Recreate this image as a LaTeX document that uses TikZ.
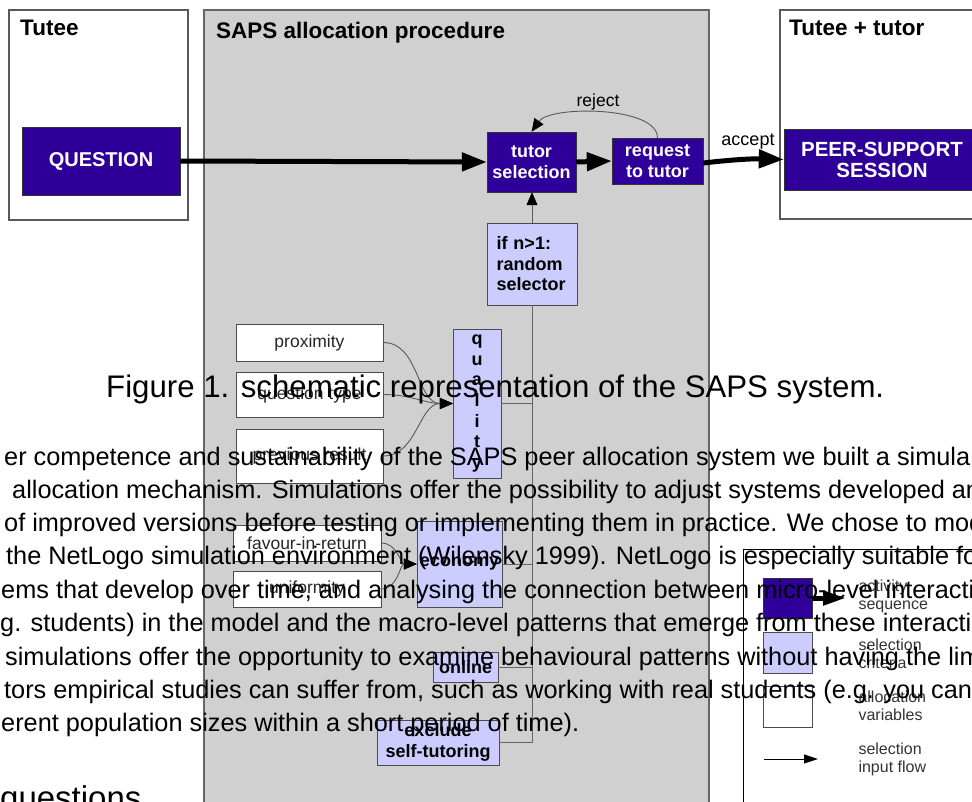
\documentclass[tikz,border=0pt]{standalone}
\usepackage{fontspec}
\setmainfont{Liberation Sans}
\usetikzlibrary{arrows.meta}
\definecolor{actblue}{HTML}{2E0099}
\definecolor{critlav}{HTML}{CCCCFF}
\definecolor{sapsgray}{HTML}{D0D0D0}
\begin{document}
\begin{tikzpicture}[
        x = 1pt, y = -1pt, % one unit per pixel, y goes down
        activity/.style = {draw=black!80, fill=actblue, text=white, inner sep=0pt,
            align=center, font=\bfseries\fontsize{18}{21}\selectfont},
        criteria/.style = {draw=black!70, fill=critlav, inner sep=0pt,
            align=center, font=\bfseries\fontsize{18}{20.5}\selectfont},
        allocvar/.style = {draw=black!70, fill=white, text=black!85, inner sep=0pt,
            font=\fontsize{17.5}{19}\selectfont},
        seqarrow/.style = {line width=5pt, -{Triangle[length=25pt, width=18pt]}},
        flow/.style = {draw=black!65, line width=0.9pt, -{Triangle[length=13pt, width=11pt, color=black]}},
        link/.style = {draw=black!60, line width=1pt},
        title/.style = {anchor=base west, inner sep=0pt, font=\bfseries\fontsize{22.5}{26}\selectfont},
        legtext/.style = {anchor=west, align=left, text=black!80, font=\fontsize{16}{18}\selectfont},
        page/.style = {anchor=base west, inner sep=0pt, font=\fontsize{25.3}{33}\selectfont},
    ]
    \clip (0,0) rectangle (972,801);
    \fill[white] (0,0) rectangle (972,801);

    % the three lanes
    \draw[black!65, line width=1.2pt] (9,10) rectangle (188,220);
    \draw[black!60, line width=1.2pt, fill=sapsgray] (204,10) rectangle (709,830);
    \draw[black!65, line width=1.2pt] (780,10) rectangle (990,219);
    \node[title] (tuteelbl) at (20,35) {Tutee};
    \node[title] (sapslbl) at (216,38) {SAPS allocation procedure};
    \node[title] (pairlbl) at (789,35) {Tutee + tutor};

    % activity sequence
    \node[activity, minimum width=158pt, minimum height=68pt,
        font=\bfseries\fontsize{20}{24}\selectfont] (question) at (101,161) {QUESTION};
    \node[activity, minimum width=89pt, minimum height=60pt] (tsel) at (531.5,162) {tutor\\selection};
    \node[activity, minimum width=91pt, minimum height=46pt] (req) at (657.5,161) {request\\to tutor};
    \node[activity, minimum width=196pt, minimum height=61pt,
        font=\bfseries\fontsize{20.5}{21}\selectfont] (session) at (882,159.5) {PEER-SUPPORT\\SESSION};

    \draw[seqarrow] (question.east) -- (tsel.west);
    \draw[seqarrow] (tsel.east) -- (req.west);
    \draw[seqarrow] (req.east |- 0,163) to[bend left=4] (session.west);
    \node[font=\fontsize{18}{20}\selectfont] (acceptlbl) at (748,142) {accept};
    \draw[flow] (req.north) to[out=90, in=55, looseness=0.65] (tsel.north);
    \node[font=\fontsize{17.5}{20}\selectfont] (rejectlbl) at (598,102) {reject};

    % selection criteria
    \node[criteria, minimum width=90pt, minimum height=82pt, text width=71pt,
        align=left] (selector) at (532,264) {if n>1:\\random\\selector};
    \node[criteria, minimum width=48pt, minimum height=149pt,
        font=\bfseries\fontsize{18}{20.7}\selectfont] (quality) at (477,403.5) {q\\u\\a\\l\\i\\t\\y};
    \node[criteria, minimum width=85pt, minimum height=86pt] (economy) at (459.5,564) {economy};
    \node[criteria, minimum width=65pt, minimum height=30pt] (online) at (465.5,667) {online};
    \node[criteria, minimum width=122pt, minimum height=45pt] (exclude) at (438,742.5) {exclude\\self-tutoring};

    \draw[flow] (selector.north) -- (selector.north |- tsel.south);
    \draw[link] (quality.east) -| (selector.south);
    \draw[link] (economy.east) -| (selector.south);
    \draw[link] (online.east) -| (selector.south);
    \draw[link] (exclude.east) -| (selector.south);

    % allocation variables
    \node[allocvar, minimum width=147pt, minimum height=37pt] (prox) at (309.5,342.5) {proximity};
    \node[allocvar, minimum width=147pt, minimum height=45pt] (qtype) at (309.5,394.5) {question type};
    \node[allocvar, minimum width=147pt, minimum height=54pt] (prev) at (309.5,456) {previous result};
    \node[allocvar, minimum width=148pt, minimum height=36pt] (favour) at (307,543) {favour-in-return};
    \node[allocvar, minimum width=148pt, minimum height=36pt] (unif) at (307,589) {uniformity};

    \draw[flow] (prox.east) to[out=0, in=180] (quality.west);
    \draw[flow] (qtype.east) to[out=0, in=180] (quality.west);
    \draw[flow] (prev.east) to[out=0, in=180] (quality.west);
    \draw[flow] (favour.east) to[out=0, in=180] (economy.west);
    \draw[flow] (unif.east) to[out=0, in=180] (economy.west);

    % legend
    \draw[black, line width=1pt, fill=white] (743,549) rectangle (990,830);
    \node[activity, minimum width=49pt, minimum height=40pt] (lgact) at (787.5,598) {};
    \node[criteria, minimum width=49pt, minimum height=41pt] (lgcrit) at (787.5,652.5) {};
    \node[allocvar, minimum width=49pt, minimum height=41pt] (lgvar) at (787.5,706.5) {};
    \coordinate (lgactend) at (846,598);
    \coordinate (lgflowa) at (764,759);
    \coordinate (lgflowb) at (818,759);
    \draw[line width=5pt, -{Triangle[length=23pt, width=14pt]}] (lgact.east) -- (lgactend);
    \draw[line width=1pt, -{Triangle[length=14pt, width=9pt]}] (lgflowa) -- (lgflowb);
    \node[legtext] (lgacttxt) at (855,596.5) {activity\\sequence};
    \node[legtext] (lgcrittxt) at (855,654) {selection\\criteria};
    \node[legtext] (lgvartxt) at (855,705.5) {allocation\\variables};
    \node[legtext] (lgflowtxt) at (855,759.5) {selection\\input flow};

    % page text printed over the figure
    \node[page, font=\fontsize{31.2}{36}\selectfont] (caption) at (106,397) {Figure 1. schematic representation of the SAPS system.};
    \node[page] (lineA) at (4,465) {er competence and sustainability of the SAPS peer allocation system we built a simula};
    \node[page] (lineB) at (12,498) {allocation mechanism. Simulations offer the possibility to adjust systems developed and};
    \node[page] (lineC) at (4,531) {of improved versions before testing or implementing them in practice. We chose to mod};
    \node[page] (lineD) at (6,564) {the NetLogo simulation environment (Wilensky 1999). NetLogo is especially suitable fo};
    \node[page] (lineE) at (1,598) {ems that develop over time, and analysing the connection between micro-level interactio};
    \node[page] (lineF) at (0,631) {g. students) in the model and the macro-level patterns that emerge from these interacti};
    \node[page] (lineG) at (5,665) {simulations offer the opportunity to examine behavioural patterns without having the lim};
    \node[page] (lineH) at (4,698) {tors empirical studies can suffer from, such as working with real students (e.g. you can};
    \node[page] (lineI) at (1,731) {erent population sizes within a short period of time).};
    \node[page, font=\fontsize{33}{38}\selectfont] (heading) at (0,809) {questions};
\end{tikzpicture}
\end{document}
